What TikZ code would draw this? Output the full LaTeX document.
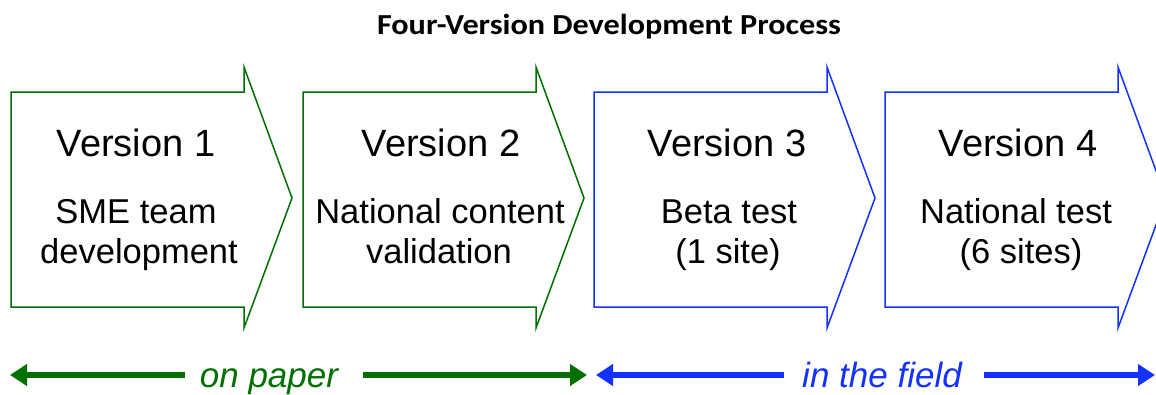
\documentclass[tikz,border=0pt]{standalone}
\usepackage{fontspec}
\setmainfont{Liberation Sans}
\newfontfamily\titlefont{Carlito}
\usetikzlibrary{arrows.meta}
\definecolor{pgreen}{RGB}{0,112,0}
\definecolor{pblue}{RGB}{20,50,255}
\tikzset{
  bigarrow/.style={line width=1.5pt, fill=white, line join=miter},
  vtitle/.style={anchor=base, font=\fontsize{38}{40}\selectfont, inner sep=0pt},
  vbody/.style={anchor=base, font=\fontsize{34.5}{40}\selectfont, inner sep=0pt},
  span/.style={line width=5.5pt, -{Triangle[length=17pt,width=21pt]}},
  spanlabel/.style={anchor=base, font=\fontsize{35}{40}\selectfont\itshape, inner xsep=0pt, inner ysep=0pt}
}
\begin{document}
\begin{tikzpicture}[x=1pt,y=-1pt]
\clip (0,0) rectangle (1156,394);
\fill[white] (0,0) rectangle (1156,394);

\node[font=\titlefont\bfseries\fontsize{29}{32}\selectfont, inner sep=0pt, anchor=base, xscale=1.11] (title) at (609,34) {Four-Version Development Process};

% big chevron arrows
\foreach \l/\c in {11/pgreen, 303/pgreen, 594/pblue, 885/pblue}{
  \draw[bigarrow, draw=\c] (\l,92) -- (\l+233,92) -- (\l+233,67) -- (\l+281,198)
     -- (\l+233,328) -- (\l+233,307) -- (\l,307) -- cycle;
}

\node[vtitle] (v1) at (136,156) {Version 1};
\node[vbody] (b1a) at (136,223) {SME team};
\node[vbody] (b1b) at (139,263) {development};

\node[vtitle] (v2) at (441,156) {Version 2};
\node[vbody] (b2a) at (440,223) {National content};
\node[vbody] (b2b) at (439,263) {validation};

\node[vtitle] (v3) at (727,156) {Version 3};
\node[vbody] (b3a) at (729,223) {Beta test};
\node[vbody] (b3b) at (728,263) {(1 site)};

\node[vtitle] (v4) at (1018,156) {Version 4};
\node[vbody] (b4a) at (1016,223) {National test};
\node[vbody] (b4b) at (1021,263) {(6 sites)};

% bottom spans
\node[spanlabel, text=pgreen] (paper) at (269,387) {on paper};
\coordinate (pl) at (10,375);
\coordinate (pr) at (587,375);
\path ([xshift=-15pt]paper.west) coordinate (pa) ([xshift=25pt]paper.east) coordinate (pb);
\draw[span, pgreen] (pa |- pl) -- (pl);
\draw[span, pgreen] (pb |- pr) -- (pr);

\node[spanlabel, text=pblue] (field) at (882,387) {in the field};
\coordinate (fl) at (596,375);
\coordinate (fr) at (1155,375);
\path ([xshift=-18pt]field.west) coordinate (fa) ([xshift=22pt]field.east) coordinate (fb);
\draw[span, pblue] (fa |- fl) -- (fl);
\draw[span, pblue] (fb |- fr) -- (fr);
\end{tikzpicture}
\end{document}
